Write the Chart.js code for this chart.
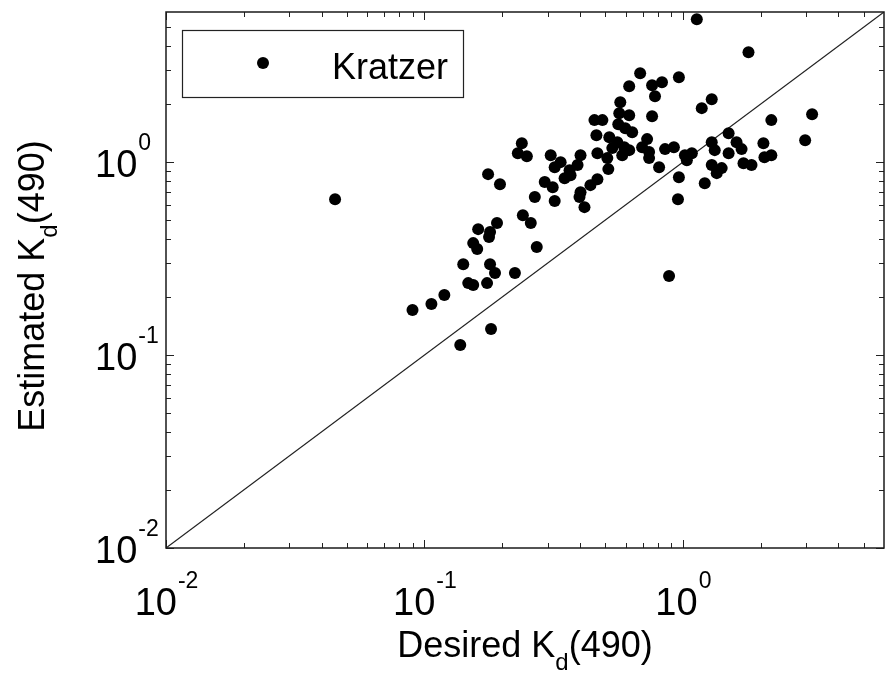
<!DOCTYPE html>
<html><head><meta charset="utf-8">
<script src="https://cdn.jsdelivr.net/npm/chart.js@4.4.1/dist/chart.umd.min.js"></script>
<style>html,body{margin:0;padding:0;background:#fff;}canvas{display:block;}</style>
</head><body>
<canvas id="c" width="890" height="677"></canvas>
<script>
// ---- text ----
const seriesName = 'Kratzer';
const xTitleParts = ['Desired K', 'd', '(490)'];
const yTitleParts = ['Estimated K', 'd', '(490)'];

// ---- data: desired (x) vs estimated (y) Kd(490) ----
const desiredKd = [
  0.0451, 0.0899, 0.1064, 0.1194, 0.1376, 0.1810, 0.1413, 0.1794, 0.2239, 0.1477,
  0.1544, 0.1747, 0.1875, 0.1544, 0.1600, 0.1614, 0.1794, 0.1778, 0.1909, 0.2403,
  0.2579, 0.2720, 0.1763, 0.1960, 0.2381, 0.2298, 0.2490, 0.2673, 0.3191, 0.2920,
  0.3135, 0.3080, 0.3191, 0.3365, 0.3486, 0.3676, 0.3643, 0.4017, 0.3912, 0.4669,
  0.4387, 0.4017, 0.3980, 0.4161, 0.4547, 0.4882, 0.5725, 0.5673, 0.6198, 0.5623,
  0.5984, 0.6365, 0.7600, 0.4628, 0.5192, 0.5575, 0.5929, 0.6198, 0.5331, 0.4669,
  0.5100, 0.5146, 0.7270, 0.6955, 0.7400, 0.7400, 0.6833, 0.9650, 0.8300, 0.7600,
  0.6198, 0.7800, 1.132, 1.794, 1.293, 1.183, 0.8530, 0.9230, 1.018, 1.083,
  1.036, 0.8090, 0.9650, 0.9570, 0.8840, 1.215, 1.293, 1.413, 1.352, 1.503,
  1.293, 1.328, 1.613, 1.687, 1.503, 1.716, 1.843, 2.049, 2.068, 2.199,
  2.199, 3.162, 2.972, 0.5826
];
const estimatedKd = [
  0.643, 0.171, 0.1837, 0.2046, 0.1127, 0.1364, 0.296, 0.296, 0.266, 0.236,
  0.2305, 0.236, 0.266, 0.3804, 0.3542, 0.4495, 0.4339, 0.4088, 0.483, 0.531,
  0.483, 0.3628, 0.8666, 0.769, 1.254, 1.113, 1.074, 0.659, 0.628, 0.788,
  0.742, 1.087, 0.942, 1.000, 0.826, 0.856, 0.909, 1.087, 0.965, 0.816,
  0.760, 0.699, 0.659, 0.5845, 1.651, 1.651, 2.046, 1.794, 1.752, 1.573,
  1.500, 1.430, 1.731, 1.380, 1.347, 1.269, 1.196, 1.154, 1.182, 1.113,
  1.049, 0.920, 1.316, 1.196, 1.127, 1.049, 2.891, 2.756, 2.597, 2.506,
  2.476, 2.198, 5.507, 3.714, 2.120, 1.905, 1.168, 1.196, 1.087, 1.113,
  1.024, 0.942, 0.836, 0.643, 0.2567, 0.778, 0.965, 0.931, 0.877, 1.413,
  1.269, 1.154, 1.269, 1.168, 1.113, 0.988, 0.965, 1.254, 1.061, 1.087,
  1.651, 1.773, 1.300, 1.087
];

// ---- axes ----
const axisMin = 0.01;
const axisMax = 6;
const majorTicks = [0.01, 0.1, 1];
const majorExponents = ['-2', '-1', '0'];
const minorTicks = [0.02,0.03,0.04,0.05,0.06,0.07,0.08,0.09,
                    0.2,0.3,0.4,0.5,0.6,0.7,0.8,0.9,
                    2,3,4,5];
const oneToOneX = [0.01, 6];
const oneToOneY = [0.01, 6];

const FONT = '"Liberation Sans", Arial, Helvetica, sans-serif';

const points = desiredKd.map((v, i) => ({x: v, y: estimatedKd[i]}));
const diag = oneToOneX.map((v, i) => ({x: v, y: oneToOneY[i]}));

const decor = {
  id: 'decor',
  afterDraw(chart) {
    const {ctx, chartArea: a, scales: {x, y}} = chart;
    ctx.save();
    // tick marks (inward, on all four sides)
    ctx.strokeStyle = '#222';
    ctx.lineWidth = 1;
    ctx.beginPath();
    const drawTicks = (vals, len) => {
      vals.forEach(v => {
        if (v < axisMin || v > axisMax) return;
        const px = Math.round(x.getPixelForValue(v)) + 0.5;
        ctx.moveTo(px, a.bottom); ctx.lineTo(px, a.bottom - len);
        ctx.moveTo(px, a.top); ctx.lineTo(px, a.top + len);
        const py = Math.round(y.getPixelForValue(v)) + 0.5;
        ctx.moveTo(a.left, py); ctx.lineTo(a.left + len, py);
        ctx.moveTo(a.right, py); ctx.lineTo(a.right - len, py);
      });
    };
    drawTicks(majorTicks, 8);
    drawTicks(minorTicks, 5);
    ctx.stroke();
    // frame
    ctx.lineWidth = 1.5;
    ctx.strokeStyle = '#1a1a1a';
    ctx.strokeRect(a.left, a.top, a.right - a.left, a.bottom - a.top);

    // tick labels
    ctx.fillStyle = '#000';
    ctx.textBaseline = 'alphabetic';
    ctx.textAlign = 'left';
    majorTicks.forEach((v, i) => {
      const exp = majorExponents[i];
      ctx.font = '38px ' + FONT;
      const wb = ctx.measureText('10').width;
      ctx.font = '23px ' + FONT;
      const we = ctx.measureText(exp).width;
      // x axis
      const px = x.getPixelForValue(v);
      const sx = px - (wb + we) / 2;
      ctx.font = '38px ' + FONT;
      ctx.fillText('10', sx, a.bottom + 67);
      ctx.font = '23px ' + FONT;
      ctx.fillText(exp, sx + wb + 1, a.bottom + 40);
      // y axis
      const py = y.getPixelForValue(v);
      ctx.font = '38px ' + FONT;
      ctx.fillText('10', 95, py + 15);
      ctx.font = '23px ' + FONT;
      ctx.fillText(exp, 95 + wb + 1, py - 12);
    });

    // axis titles with subscript
    const drawTitle = (parts, cx, base) => {
      ctx.font = '36px ' + FONT;
      const w0 = ctx.measureText(parts[0]).width;
      const w2 = ctx.measureText(parts[2]).width;
      ctx.font = '24px ' + FONT;
      const w1 = ctx.measureText(parts[1]).width;
      const s = cx - (w0 + w1 + w2) / 2;
      ctx.font = '36px ' + FONT;
      ctx.fillText(parts[0], s, base);
      ctx.fillText(parts[2], s + w0 + w1, base);
      ctx.font = '24px ' + FONT;
      ctx.fillText(parts[1], s + w0, base + 13);
    };
    drawTitle(xTitleParts, (a.left + a.right) / 2, a.bottom + 109);
    ctx.save();
    ctx.translate(44, (a.top + a.bottom) / 2 + 6);
    ctx.rotate(-Math.PI / 2);
    drawTitle(yTitleParts, 0, 0);
    ctx.restore();

    // legend box
    ctx.fillStyle = '#fff';
    ctx.fillRect(182, 30, 281, 67);
    ctx.lineWidth = 1.2;
    ctx.strokeStyle = '#222';
    ctx.strokeRect(182.5, 30.5, 281, 67);
    ctx.fillStyle = '#000';
    ctx.beginPath();
    ctx.arc(263, 63, 6, 0, Math.PI * 2);
    ctx.fill();
    ctx.font = '36px ' + FONT;
    ctx.fillText(seriesName, 332, 79);
    ctx.restore();
  }
};

new Chart(document.getElementById('c'), {
  type: 'scatter',
  data: {
    datasets: [
      {
        label: seriesName,
        data: points,
        pointRadius: 6,
        pointHoverRadius: 6,
        pointBorderWidth: 0,
        pointBackgroundColor: '#000',
        pointBorderColor: '#000',
        showLine: false,
        order: 1
      },
      {
        type: 'line',
        label: '1:1',
        data: diag,
        borderColor: '#222',
        borderWidth: 1.2,
        pointRadius: 0,
        fill: false,
        order: 2
      }
    ]
  },
  options: {
    responsive: false,
    animation: false,
    devicePixelRatio: 1,
    layout: {padding: {left: 166, right: 2, top: 12, bottom: 129}},
    scales: {
      x: {type: 'logarithmic', min: axisMin, max: axisMax, display: false},
      y: {type: 'logarithmic', min: axisMin, max: axisMax, display: false}
    },
    plugins: {legend: {display: false}, tooltip: {enabled: false}}
  },
  plugins: [decor]
});
</script>
</body></html>
